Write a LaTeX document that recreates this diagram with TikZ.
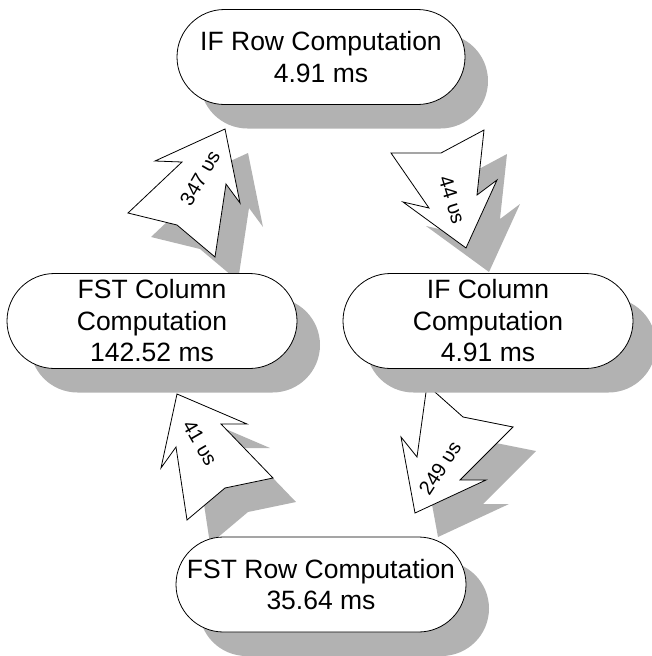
\documentclass[tikz,border=0pt]{standalone}
\usepackage{fontspec}
\setmainfont{Liberation Sans}
\usetikzlibrary{shadows}
\begin{document}
\begin{tikzpicture}[x=1pt,y=-1pt,
  shadowfill/.style={fill=black!30,draw=none},
  arrowshape/.style={fill=white,draw=black,line width=0.8pt,line join=miter},
  pill/.style={draw=black,fill=white,line width=0.8pt,rounded corners=47.5pt,
    minimum height=95pt,align=center,inner sep=0pt,
    font=\fontsize{26.5}{31.5}\selectfont,
    drop shadow={shadow xshift=23pt,shadow yshift=-24pt,fill=black!30,opacity=1}},
  arrowlabel/.style={font=\fontsize{20}{24}\selectfont,inner sep=0pt}]
\useasboundingbox (0,0) rectangle (651,656);
\def\arrA{(225,129) -- (240,203) -- (226,184) -- (215,257) -- (177,225) -- (128,213) -- (182,162) -- (155,161) -- cycle}
\def\arrB{(391,153) -- (441,153) -- (484,130) -- (477,195) -- (497,180) -- (466,248) -- (403,202) -- (429,208) -- cycle}
\def\arrC{(177,394) -- (247,424) -- (221,424) -- (273,478) -- (225,488) -- (187,520) -- (176,447) -- (161,468) -- cycle}
\def\arrD{(427,385) -- (463,417) -- (513,427) -- (460,480) -- (486,480) -- (415,513) -- (401,437) -- (417,457) -- cycle}
% arrow shadows
\foreach \a in {\arrA,\arrB,\arrC,\arrD}{
  \fill[shadowfill,shift={(23,24)}] \a;
}
% arrows
\foreach \a in {\arrA,\arrB,\arrC,\arrD}{
  \draw[arrowshape] \a;
}
\node[arrowlabel,rotate=60] (lA) at (200,178) {347 υs};
\node[arrowlabel,rotate=-73] (lB) at (452,200) {44 υs};
\node[arrowlabel,rotate=-60] (lC) at (200,443) {41 υs};
\node[arrowlabel,rotate=57] (lD) at (440,468) {249 υs};
% nodes
\node[pill,minimum width=288pt] (ifrow) at (321,57) {IF Row Computation\\4.91 ms};
\node[pill,minimum width=290pt] (fstcol) at (152,321) {FST Column\\Computation\\142.52 ms};
\node[pill,minimum width=290pt] (ifcol) at (488,321) {IF Column\\Computation\\4.91 ms};
\node[pill,minimum width=290pt] (fstrow) at (321,584.5) {FST Row Computation\\35.64 ms};
\end{tikzpicture}
\end{document}
